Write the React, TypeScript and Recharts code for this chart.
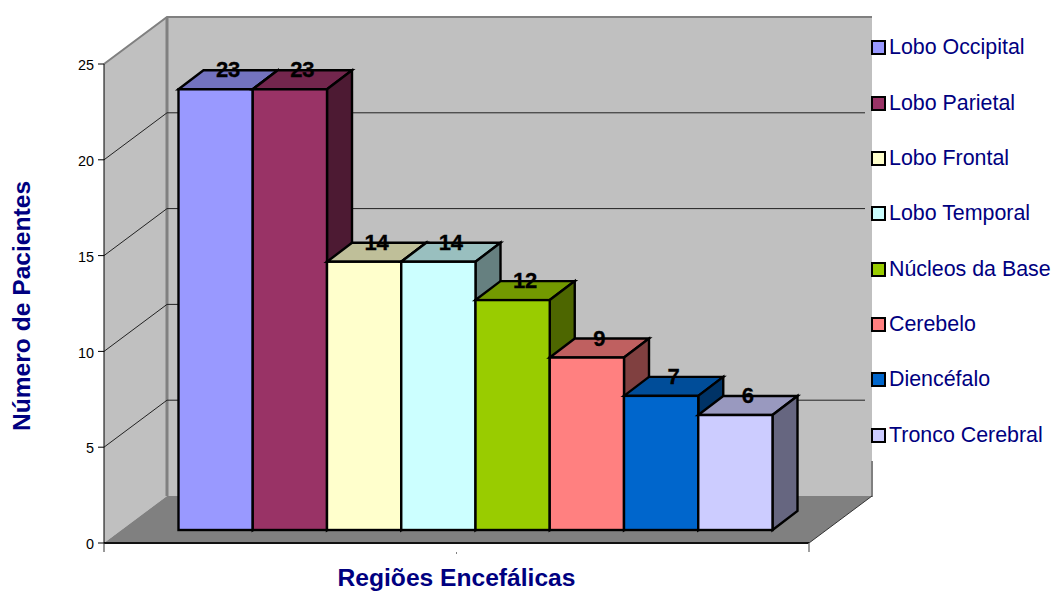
import React from 'react';
import { BarChart, Bar, XAxis, YAxis, Legend, Customized, CartesianGrid } from 'recharts';

const regions = ['Lobo Occipital', 'Lobo Parietal', 'Lobo Frontal', 'Lobo Temporal', 'Núcleos da Base', 'Cerebelo', 'Diencéfalo', 'Tronco Cerebral'];
const patients = [23, 23, 14, 14, 12, 9, 7, 6];
const yTicks = [0, 5, 10, 15, 20, 25];
const colors = ['#9999FF', '#993366', '#FFFFCC', '#CCFFFF', '#99CC00', '#FF8080', '#0066CC', '#CCCCFF'];

const row: Record<string, string | number> = { name: '' };
regions.forEach((r, i) => { row[r] = patients[i]; });
const data = [row];

const FONT = '"Liberation Sans", Arial, sans-serif';
const NAVY = '#000080';
// projection of the chart's 3D box
const PLOT = { left: 104, right: 809, top: 64, bottom: 543 };
const WALL = { dx: 63, dy: -47 };
const BAR_PLANE = { dx: 18.5, dy: -13 };
const DEPTH = { dx: 25, dy: -19 };
const Y_AT_TEN = PLOT.bottom - ((PLOT.bottom - PLOT.top) * 10) / 25;

const shade = (hex: string, k: number) => {
  const n = parseInt(hex.slice(1), 16);
  const c = [(n >> 16) & 255, (n >> 8) & 255, n & 255].map((v) => Math.round(v * k));
  return `rgb(${c[0]},${c[1]},${c[2]})`;
};

const Bar3D = (props: any) => {
  const { x, y, width, height, fill } = props;
  const l = x + BAR_PLANE.dx;
  const t = y + BAR_PLANE.dy;
  const r = l + width;
  const b = t + height;
  const { dx, dy } = DEPTH;
  return (
    <g stroke="#000" strokeWidth={2.4} strokeLinejoin="miter">
      <polygon points={`${l},${t} ${l + dx},${t + dy} ${r + dx},${t + dy} ${r},${t}`} fill={shade(fill, 0.75)} />
      <polygon points={`${r},${t} ${r + dx},${t + dy} ${r + dx},${b + dy} ${r},${b}`} fill={shade(fill, 0.5)} />
      <rect x={l} y={t} width={width} height={height} fill={fill} />
    </g>
  );
};

const barLabel = (props: any) => {
  const { x, y, width, value } = props;
  return (
    <text
      x={x + BAR_PLANE.dx + width / 2 + DEPTH.dx / 2}
      y={y + BAR_PLANE.dy + DEPTH.dy + 7}
      textAnchor="middle"
      fontFamily={FONT}
      fontWeight="bold"
      fontSize={22}
      fill="#000"
      stroke="#000"
      strokeWidth={0.3}
    >
      {value}
    </text>
  );
};

const Walls = () => {
  const { left: L, right: R, top: T, bottom: B } = PLOT;
  const { dx, dy } = WALL;
  return (
    <g>
      <polygon points={`${L},${T} ${L + dx},${T + dy} ${L + dx},${B + dy} ${L},${B}`} fill="#C0C0C0" />
      <polygon points={`${L + dx},${T + dy} ${R + dx},${T + dy} ${R + dx},${B + dy} ${L + dx},${B + dy}`} fill="#C0C0C0" />
      <polygon points={`${L},${B} ${L + dx},${B + dy} ${R + dx},${B + dy} ${R},${B}`} fill="#808080" />
      <polyline points={`${L},${T} ${L + dx},${T + dy} ${R + dx},${T + dy}`} fill="none" stroke="#808080" strokeWidth={2} />
      <line x1={L + dx} y1={T + dy} x2={L + dx} y2={B + dy} stroke="#808080" strokeWidth={3} />
      <line x1={R + dx} y1={B + dy - 35} x2={R + dx} y2={B + dy + 1} stroke="#808080" strokeWidth={2} />
      <line x1={R} y1={B} x2={R + dx} y2={B + dy} stroke="#333" strokeWidth={1} />
    </g>
  );
};

const gridLine = (props: any) => {
  const { x1, y1, index } = props;
  const { dx, dy } = WALL;
  const isEdge = y1 >= PLOT.bottom - 0.5 || y1 <= PLOT.top + 0.5;
  // the reference's line at 10 stops behind the bars
  const endX = Math.abs(y1 - Y_AT_TEN) < 1 ? x1 + dx + 12 : PLOT.right + dx - 7;
  return (
    <g key={index}>
      {index === 0 && <Walls />}
      {!isEdge && (
        <polyline points={`${x1},${y1} ${x1 + dx},${y1 + dy} ${endX},${y1 + dy}`} fill="none" stroke="#222" strokeWidth={1} />
      )}
    </g>
  );
};

const AxisExtras = () => {
  const { left: L, right: R, bottom: B } = PLOT;
  return (
    <g>
      <line x1={L} y1={B} x2={R} y2={B} stroke="#111" strokeWidth={2} />
      <line x1={L} y1={B} x2={L} y2={B + 9} stroke="#333" strokeWidth={1} />
      <line x1={R} y1={B} x2={R} y2={B + 9} stroke="#808080" strokeWidth={1.5} />
      <line x1={(L + R) / 2} y1={B + 9} x2={(L + R) / 2} y2={B + 11} stroke="#808080" strokeWidth={1} />
    </g>
  );
};

const legendContent = (props: any) => (
  <div>
    {(props.payload || []).map((item: any) => (
      <div key={item.value} style={{ display: 'flex', alignItems: 'center', height: 55.35, fontFamily: FONT, fontSize: 21.4, color: NAVY, whiteSpace: 'nowrap' }}>
        <span style={{ display: 'inline-block', boxSizing: 'border-box', width: 15, height: 15, border: '2.4px solid #000', background: item.color, marginRight: 3 }} />
        {item.value}
      </div>
    ))}
  </div>
);

export default function App() {
  return (
    <div style={{ position: 'absolute', left: 0, top: 0, width: 1052, height: 591 }}>
      <BarChart
        width={1052}
        height={591}
        data={data}
        margin={{ top: 64, right: 243, bottom: 0, left: 44 }}
        barSize={74.25}
        barGap={0}
      >
        <CartesianGrid vertical={false} horizontal={gridLine} />
        <XAxis
          dataKey="name"
          height={48}
          tick={false}
          tickLine={false}
          axisLine={false}
          label={{
            content: () => (
              <text x={456.5} y={586} textAnchor="middle" fontFamily={FONT} fontWeight="bold" fontSize={24.6} fill={NAVY}>
                Regiões Encefálicas
              </text>
            ),
          }}
        />
        <YAxis
          width={60}
          domain={[0, 25]}
          ticks={yTicks}
          interval={0}
          tickSize={6}
          tickMargin={4}
          stroke="#000"
          tick={{ fontFamily: FONT, fontSize: 14.4, fill: '#000', dy: 1 }}
          label={{
            content: () => (
              <text transform="translate(30,306) rotate(-90)" textAnchor="middle" fontFamily={FONT} fontWeight="bold" fontSize={24.6} fill={NAVY}>
                Número de Pacientes
              </text>
            ),
          }}
        />
        <Customized component={AxisExtras} />
        {regions.map((r, i) => (
          <Bar key={r} dataKey={r} name={r} fill={colors[i]} isAnimationActive={false} shape={Bar3D} label={barLabel} />
        ))}
        <Legend
          layout="horizontal"
          verticalAlign="middle"
          align="center"
          itemSorter={null}
          content={legendContent}
          wrapperStyle={{ position: 'absolute', left: 871, top: 20, width: 181, bottom: 'auto' }}
        />
      </BarChart>
    </div>
  );
}
